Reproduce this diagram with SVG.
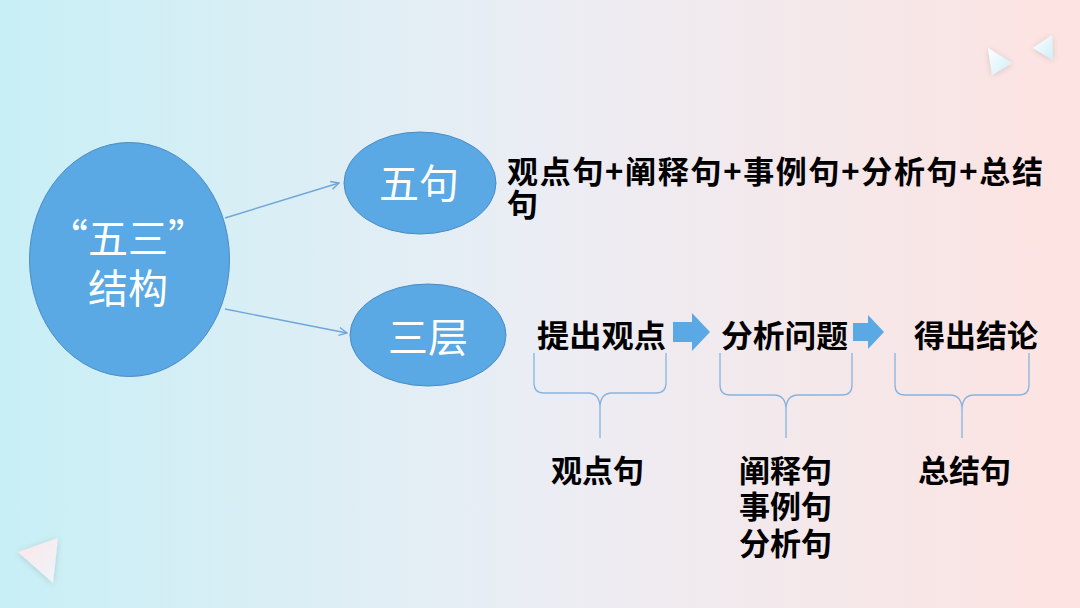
<svg xmlns="http://www.w3.org/2000/svg" width="1080" height="608" viewBox="0 0 1080 608">
<defs>
<linearGradient id="bg" x1="0" y1="0" x2="1" y2="0">
<stop offset="0" stop-color="#c8eff6"/>
<stop offset="0.5" stop-color="#ebedf4"/>
<stop offset="1" stop-color="#fde3e1"/>
</linearGradient>
<linearGradient id="tri1" x1="0" y1="0" x2="1" y2="1">
<stop offset="0" stop-color="#ffffff"/>
<stop offset="1" stop-color="#cdeff8"/>
</linearGradient>
<linearGradient id="tri2" x1="0" y1="0" x2="1" y2="1">
<stop offset="0" stop-color="#fde6e6"/>
<stop offset="1" stop-color="#eef4fb"/>
</linearGradient>
<filter id="soft" x="-50%" y="-50%" width="200%" height="200%">
<feGaussianBlur in="SourceAlpha" stdDeviation="3"/>
<feOffset dx="0" dy="1"/>
<feComponentTransfer><feFuncA type="linear" slope="0.15"/></feComponentTransfer>
<feMerge><feMergeNode/><feMergeNode in="SourceGraphic"/></feMerge>
</filter>
<marker id="arr" viewBox="0 0 10 10" refX="9" refY="5" markerWidth="10" markerHeight="10" markerUnits="userSpaceOnUse" orient="auto">
<path d="M1,1 L9,5 L1,9" fill="none" stroke="#6fa6da" stroke-width="1.4"/>
</marker>
<style>
.ell{fill:#5aa8e4;stroke:#4a8cc6;stroke-width:1}
.wt{font-family:"Noto Sans CJK SC","Noto Sans",sans-serif;fill:#ffffff;font-size:40px;text-anchor:middle}
.bt{font-family:"Noto Sans CJK SC","Noto Sans",sans-serif;fill:#000000;font-weight:bold;font-size:31px}
.conn{stroke:#6fa6da;stroke-width:1.4;fill:none}
.brace{stroke:#86b4de;stroke-width:1.3;fill:none}
.blk{fill:#5aa8e4}
</style>
</defs>
<rect width="1080" height="608" fill="url(#bg)"/>
<g id="decor" filter="url(#soft)">
<polygon points="988,48 1012,63 992,75" fill="url(#tri1)"/>
<polygon points="1052,35 1053,60 1033,48" fill="url(#tri1)"/>
<polygon points="18,552 58,538 53,583" fill="url(#tri2)"/>
</g>
<g id="connectors">
<line class="conn" x1="225" y1="218" x2="339" y2="183" marker-end="url(#arr)"/>
<line class="conn" x1="225" y1="309" x2="347" y2="333" marker-end="url(#arr)"/>
<path class="blk" d="M673,322 H692 V313 L710,332 L692,351 V342 H673 Z"/>
<path class="blk" d="M853,323 H868 V315 L884,332 L868,349 V341 H853 Z"/>
<path class="brace" d="M534,353 V383 Q534,393 544,393 H588 Q600,393 600,408 V438 M666,353 V383 Q666,393 656,393 H612 Q600,393 600,408"/>
<path class="brace" d="M720,353 V385 Q720,395 730,395 H774 Q786,395 786,410 V438 M852,353 V385 Q852,395 842,395 H798 Q786,395 786,410"/>
<path class="brace" d="M895,353 V385 Q895,395 905,395 H950 Q962,395 962,410 V438 M1029,353 V385 Q1029,395 1019,395 H974 Q962,395 962,410"/>
</g>
<g id="node-root">
<ellipse class="ell" cx="129.5" cy="259.5" rx="100" ry="117"/>
<text class="wt" x="128" y="253">“五三”<tspan x="128" y="303">结构</tspan></text>
</g>
<g id="node-wuju">
<ellipse class="ell" cx="420" cy="183" rx="76" ry="51"/>
<text class="wt" x="419" y="198">五句</text>
</g>
<g id="node-sanceng">
<ellipse class="ell" cx="428" cy="335" rx="78" ry="51"/>
<text class="wt" x="428" y="352">三层</text>
</g>
<g id="text-wuju">
<text class="bt" x="507" y="183"><tspan textLength="536" lengthAdjust="spacing">观点句+阐释句+事例句+分析句+总结</tspan><tspan x="507" y="216">句</tspan></text>
</g>
<g id="step1"><text class="bt" x="537" y="347" textLength="129" lengthAdjust="spacingAndGlyphs">提出观点</text></g>
<g id="step2"><text class="bt" x="721" y="347" textLength="127" lengthAdjust="spacingAndGlyphs">分析问题</text></g>
<g id="step3"><text class="bt" x="914" y="347" textLength="124" lengthAdjust="spacingAndGlyphs">得出结论</text></g>
<g id="label1"><text class="bt" x="551" y="482">观点句</text></g>
<g id="label2">
<text class="bt" x="739" y="482">阐释句<tspan x="739" y="518">事例句</tspan><tspan x="739" y="555">分析句</tspan></text>
</g>
<g id="label3"><text class="bt" x="918" y="482">总结句</text></g>
</svg>
